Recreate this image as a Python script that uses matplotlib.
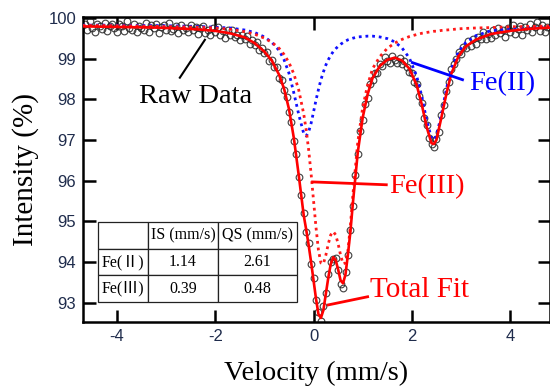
import numpy as np
import matplotlib
matplotlib.use("Agg")
import matplotlib.pyplot as plt

plt.rcParams["axes.unicode_minus"] = False

# ---- Mössbauer spectrum: measured transmission (%) vs source velocity (mm/s)
velocity = np.linspace(-4.65, 4.75, 189)
raw_intensity = [
    99.84, 99.71, 99.91, 99.76, 99.64, 99.85, 99.79, 99.72, 99.88, 99.67,
    99.81, 99.86, 99.74, 99.65, 99.84, 99.79, 99.68, 99.91, 99.75, 99.70,
    99.86, 99.65, 99.81, 99.76, 99.71, 99.87, 99.66, 99.82, 99.75, 99.84,
    99.62, 99.78, 99.82, 99.69, 99.87, 99.67, 99.72, 99.79, 99.63, 99.83,
    99.69, 99.75, 99.64, 99.83, 99.69, 99.78, 99.60, 99.75, 99.79, 99.63,
    99.71, 99.59, 99.76, 99.66, 99.78, 99.58, 99.68, 99.51, 99.69, 99.58,
    99.69, 99.53, 99.59, 99.46, 99.59, 99.49, 99.56, 99.35, 99.46, 99.33,
    99.41, 99.21, 99.25, 99.13, 99.16, 98.94, 98.97, 98.78, 98.79, 98.51,
    98.47, 98.23, 98.06, 97.68, 97.43, 96.98, 96.66, 96.08, 95.65, 95.21,
    94.73, 94.46, 93.95, 93.62, 93.07, 92.78, 92.55, 92.92, 93.25, 93.70,
    94.00, 94.08, 94.11, 93.80, 93.46, 93.36, 93.75, 94.17, 94.79, 95.39,
    96.15, 96.66, 97.22, 97.50, 97.88, 98.04, 98.38, 98.48, 98.65, 98.65,
    98.87, 98.81, 99.03, 98.94, 98.90, 99.05, 98.96, 98.90, 99.01, 98.87,
    98.94, 98.78, 98.66, 98.65, 98.43, 98.38, 98.07, 97.90, 97.53, 97.37,
    97.06, 96.89, 96.82, 97.02, 97.20, 97.61, 97.85, 98.21, 98.42, 98.74,
    98.86, 98.99, 99.16, 99.12, 99.29, 99.25, 99.44, 99.31, 99.47, 99.35,
    99.54, 99.47, 99.64, 99.48, 99.60, 99.50, 99.69, 99.57, 99.76, 99.62,
    99.70, 99.54, 99.76, 99.64, 99.83, 99.61, 99.73, 99.80, 99.58, 99.77,
    99.70, 99.85, 99.64, 99.78, 99.89, 99.68, 99.83, 99.65, 99.78,
]

# ---- fitted components and total fit, sampled on a common velocity grid
fit_velocity = [
    -4.70, -4.20, -3.70, -3.20, -2.80, -2.40, -2.00, -1.70, -1.40, -1.20,
    -1.00, -0.85, -0.70, -0.60, -0.50, -0.40, -0.30, -0.20, -0.15, -0.10,
    -0.05, 0.00, 0.05, 0.10, 0.15, 0.20, 0.25, 0.30, 0.35, 0.40,
    0.45, 0.50, 0.55, 0.60, 0.65, 0.70, 0.75, 0.80, 0.90, 1.00,
    1.10, 1.20, 1.35, 1.50, 1.65, 1.80, 1.95, 2.10, 2.20, 2.30,
    2.40, 2.45, 2.50, 2.60, 2.70, 2.80, 2.95, 3.10, 3.30, 3.60,
    4.00, 4.40, 4.81,
]
fe2_fit = [
    99.82, 99.82, 99.81, 99.81, 99.80, 99.79, 99.77, 99.75, 99.70, 99.64,
    99.53, 99.40, 99.20, 98.97, 98.64, 98.15, 97.62, 97.16, 97.10, 97.20,
    97.41, 97.69, 97.98, 98.24, 98.48, 98.67, 98.84, 98.97, 99.08, 99.17,
    99.24, 99.30, 99.35, 99.39, 99.43, 99.46, 99.48, 99.50, 99.53, 99.54,
    99.55, 99.55, 99.53, 99.49, 99.41, 99.26, 99.01, 98.56, 98.08, 97.49,
    97.04, 97.00, 97.10, 97.62, 98.24, 98.74, 99.17, 99.40, 99.56, 99.68,
    99.73, 99.76, 99.78,
]
fe3_fit = [
    99.81, 99.81, 99.80, 99.79, 99.78, 99.77, 99.75, 99.72, 99.66, 99.60,
    99.50, 99.40, 99.25, 99.10, 98.90, 98.62, 98.22, 97.64, 97.25, 96.76,
    96.17, 95.51, 94.85, 94.29, 93.98, 93.96, 94.17, 94.45, 94.67, 94.75,
    94.67, 94.45, 94.17, 93.96, 93.98, 94.29, 94.90, 95.65, 96.95, 97.80,
    98.35, 98.75, 99.05, 99.25, 99.38, 99.47, 99.54, 99.59, 99.62, 99.64,
    99.66, 99.67, 99.67, 99.69, 99.70, 99.71, 99.73, 99.74, 99.75, 99.76,
    99.78, 99.79, 99.80,
]
total_fit = [
    99.79, 99.78, 99.77, 99.76, 99.74, 99.72, 99.68, 99.62, 99.52, 99.38,
    99.17, 98.95, 98.60, 98.26, 97.76, 97.04, 96.12, 95.15, 94.80, 94.42,
    94.00, 93.55, 93.10, 92.72, 92.63, 92.82, 93.22, 93.62, 93.95, 94.12,
    94.05, 93.82, 93.55, 93.48, 93.70, 94.20, 94.75, 95.45, 96.70, 97.55,
    98.12, 98.52, 98.82, 98.97, 99.02, 98.95, 98.75, 98.34, 97.88, 97.32,
    96.92, 96.90, 97.00, 97.55, 98.12, 98.62, 99.06, 99.30, 99.46, 99.60,
    99.68, 99.73, 99.76,
]

# ---- hyperfine parameters shown in the inset table
table_columns = ["", "IS (mm/s)", "QS (mm/s)"]
table_rows = [
    ["Fe(\u2161)", "1.14", "2.61"],
    ["Fe(\u2162)", "0.39", "0.48"],
]

x_ticks = [-4, -2, 0, 2, 4]
y_ticks = [93, 94, 95, 96, 97, 98, 99, 100]

SERIF = ["Liberation Serif", "Noto Sans CJK SC", "DejaVu Serif"]
TICK_COLOR = "#1f2c4c"

fig = plt.figure(figsize=(5.5, 3.9), dpi=100)
ax = fig.add_axes([83 / 550, 1 - 322 / 390, 467 / 550, 305 / 390])

ax.plot(velocity, raw_intensity, linestyle="none", marker="o", markersize=4.8,
        markerfacecolor="none", markeredgecolor="#262626", markeredgewidth=0.85,
        alpha=0.85, zorder=2)
ax.plot(fit_velocity, fe2_fit, color="#1010ff", linewidth=2.0,
        linestyle=(0, (1.0, 1.4)), zorder=3)
ax.plot(fit_velocity, fe3_fit, color="#ff1a1a", linewidth=2.0,
        linestyle=(0, (1.0, 1.4)), zorder=3)
ax.plot(fit_velocity, total_fit, color="#ff0000", linewidth=1.9, zorder=4)

ax.set_xlim(-4.69, 4.81)
ax.set_ylim(92.53, 100.02)
ax.set_xticks(x_ticks)
ax.set_yticks(y_ticks)
ax.tick_params(direction="in", length=9, width=1.8, top=True, right=True,
               labelsize=12, labelcolor=TICK_COLOR, pad=5)
for lab in ax.get_xticklabels() + ax.get_yticklabels():
    lab.set_family("Liberation Sans")
for sp in ax.spines.values():
    sp.set_linewidth(1.8)

ax.set_xlabel("Velocity (mm/s)", family=SERIF, fontsize=20.5, labelpad=12)
ax.set_ylabel("Intensity (%)", family=SERIF, fontsize=21, labelpad=7)

# curve labels with leader lines
ax.plot([-2.72, -2.21], [98.53, 99.46], color="black", linewidth=1.5, zorder=5)
ax.text(-2.40, 98.06, "Raw Data", family=SERIF, fontsize=20.5, color="black",
        ha="center", va="center", zorder=5)

ax.plot([2.01, 3.03], [98.90, 98.48], color="#0000ff", linewidth=2.0, zorder=5)
ax.text(3.17, 98.38, "Fe(II)", family=SERIF, fontsize=20.5, color="#0000ff",
        ha="left", va="center", zorder=5)

ax.plot([-0.02, 1.48], [95.97, 95.90], color="#ff0000", linewidth=2.0, zorder=5)
ax.text(1.54, 95.85, "Fe(III)", family=SERIF, fontsize=20.5, color="#ff0000",
        ha="left", va="center", zorder=5)

ax.plot([0.30, 1.10], [92.95, 93.15], color="#ff0000", linewidth=2.0, zorder=5)
ax.text(1.14, 93.32, "Total Fit", family=SERIF, fontsize=21, color="#ff0000",
        ha="left", va="center", zorder=5)

# inset parameter table
cells = [table_columns] + table_rows
tbl = ax.table(cellText=cells, cellLoc="center",
               colWidths=[0.251, 0.352, 0.397],
               bbox=[0.032, 0.066, 0.426, 0.262], zorder=6)
tbl.auto_set_font_size(False)
for (r, c), cell in tbl.get_celld().items():
    cell.set_linewidth(0.9)
    cell.set_edgecolor("#222222")
    cell.set_facecolor("white")
    cell.get_text().set_fontsize(11.5)
    cell.get_text().set_family(SERIF)

fig.savefig("out.png", dpi=100)
